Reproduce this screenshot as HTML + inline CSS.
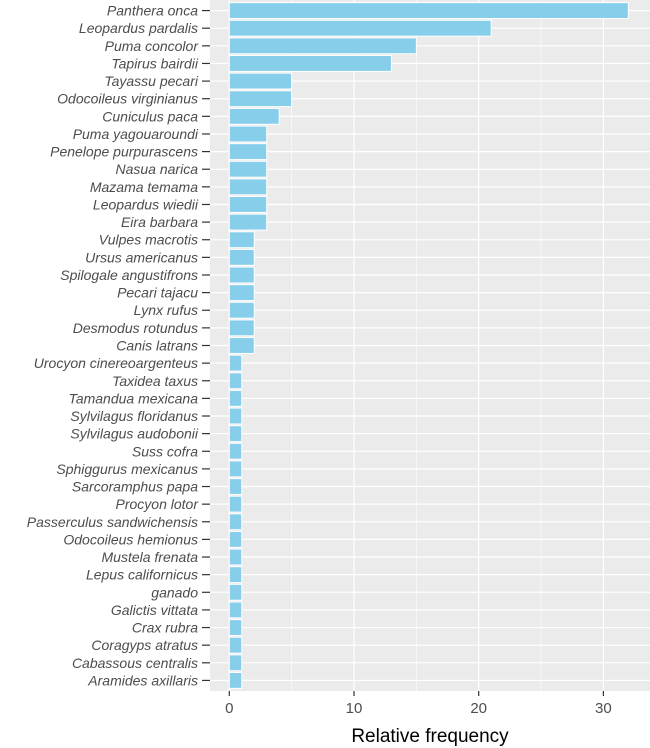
<!DOCTYPE html>
<html><head><meta charset="utf-8"><style>
html,body{margin:0;padding:0;background:#fff;}
svg{display:block;font-family:"Liberation Sans",Arial,sans-serif;}
</style></head><body>
<svg id="chart" width="650" height="748"></svg>
<script>
const categories=["Panthera onca","Leopardus pardalis","Puma concolor","Tapirus bairdii","Tayassu pecari","Odocoileus virginianus","Cuniculus paca","Puma yagouaroundi","Penelope purpurascens","Nasua narica","Mazama temama","Leopardus wiedii","Eira barbara","Vulpes macrotis","Ursus americanus","Spilogale angustifrons","Pecari tajacu","Lynx rufus","Desmodus rotundus","Canis latrans","Urocyon cinereoargenteus","Taxidea taxus","Tamandua mexicana","Sylvilagus floridanus","Sylvilagus audobonii","Suss cofra","Sphiggurus mexicanus","Sarcoramphus papa","Procyon lotor","Passerculus sandwichensis","Odocoileus hemionus","Mustela frenata","Lepus californicus","ganado","Galictis vittata","Crax rubra","Coragyps atratus","Cabassous centralis","Aramides axillaris"];
const values=[32,21,15,13,5,5,4,3,3,3,3,3,3,2,2,2,2,2,2,2,1,1,1,1,1,1,1,1,1,1,1,1,1,1,1,1,1,1,1];
const xTicks=[0,10,20,30];
const xMinor=[5,15,25,35];
const NS="http://www.w3.org/2000/svg";
const svg=document.getElementById('chart');
const pL=210,pR=650,pT=0,pB=691;
const x=v=>229.3+v*12.47;
const band=(pB-pT)/(categories.length+0.2);
const y=i=>pT+(0.6+i)*band;
function mk(t,a){const e=document.createElementNS(NS,t);for(const k in a)e.setAttribute(k,a[k]);svg.appendChild(e);return e;}
let e=mk('rect',{x:pL,y:pT,width:pR-pL,height:pB-pT,fill:'#ebebeb'});


xMinor.forEach(v=>{const g=mk('line',{x1:x(v),x2:x(v),y1:pT,y2:pB,stroke:'#fff','stroke-width':0.6});

});
xTicks.forEach(v=>{const g=mk('line',{x1:x(v),x2:x(v),y1:pT,y2:pB,stroke:'#fff','stroke-width':1.2});

});
categories.forEach((c,i)=>{const g=mk('line',{x1:pL,x2:pR,y1:y(i),y2:y(i),stroke:'#fff','stroke-width':1.2});

});
categories.forEach((c,i)=>{
const b=mk('rect',{x:x(0),y:y(i)-band*0.45,width:x(values[i])-x(0),height:band*0.9,fill:'#87ceeb',stroke:'#fff','stroke-width':1});


const t=mk('line',{x1:202,x2:pL,y1:y(i),y2:y(i),stroke:'#333','stroke-width':1.2});


const l=mk('text',{x:198,y:y(i)+5,'text-anchor':'end','font-size':14,'font-style':'italic',fill:'#4d4d4d'});
l.textContent=c;


});
xTicks.forEach(v=>{
const t=mk('line',{x1:x(v),x2:x(v),y1:pB,y2:pB+5,stroke:'#333','stroke-width':1.2});


const l=mk('text',{x:x(v),y:pB+22,'text-anchor':'middle','font-size':15,fill:'#4d4d4d'});
l.textContent=v;


});
const tt=mk('text',{x:(pL+pR)/2,y:742,'text-anchor':'middle','font-size':19,fill:'#000'});
tt.textContent='Relative frequency';


</script>
</body></html>
